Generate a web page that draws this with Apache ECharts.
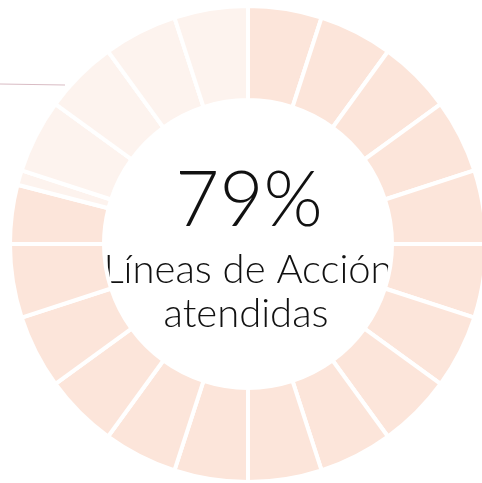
<!DOCTYPE html>
<html>
<head>
<meta charset="utf-8">
<script src="https://cdn.jsdelivr.net/npm/echarts@6/dist/echarts.min.js"></script>
<style>
  html, body { margin: 0; padding: 0; background: #fff; }
  #chart { width: 482px; height: 483px; }
</style>
</head>
<body>
<div id="chart"></div>
<script>
var chart = echarts.init(document.getElementById("chart"));

// porcentaje atendido y etiquetas
let percentText = "79%";
let labelLines = ["Líneas de Acción", "atendidas"];

// cada segmento del anillo vale 5% (20 segmentos), el 16 se parte en 4 + 1
let filledSlices = [5, 5, 5, 5, 5, 5, 5, 5, 5, 5, 5, 5, 5, 5, 5, 4];
let emptySlices = [1, 5, 5, 5, 5];

let filledColor = "#fce5da";
let emptyColor = "#fdf3ee";

let data = [];
filledSlices.forEach(v => data.push({ value: v, itemStyle: { color: filledColor } }));
emptySlices.forEach(v => data.push({ value: v, itemStyle: { color: emptyColor } }));

chart.setOption({
  animation: false,
  series: [
    {
      type: "pie",
      center: [248, 244],
      radius: [144, 238],
      startAngle: 90,
      clockwise: true,
      silent: true,
      label: { show: false },
      labelLine: { show: false },
      itemStyle: {
        borderColor: "#ffffff",
        borderWidth: 4
      },
      data: data
    }
  ],
  graphic: [
    {
      type: "line",
      shape: { x1: 0, y1: 84, x2: 65, y2: 85 },
      style: { stroke: "#d9bcc4", lineWidth: 1.2 }
    },
    {
      type: "text",
      x: 249, y: 201,
      style: {
        text: percentText,
        font: "300 76px Lato",
        fill: "#111",
        align: "center",
        verticalAlign: "middle"
      }
    },
    {
      type: "text",
      x: 248, y: 270,
      style: {
        text: labelLines[0],
        font: "300 40px Lato",
        fill: "#111",
        align: "center",
        verticalAlign: "middle"
      }
    },
    {
      type: "text",
      x: 246, y: 314,
      style: {
        text: labelLines[1],
        font: "300 40px Lato",
        fill: "#111",
        align: "center",
        verticalAlign: "middle"
      }
    }
  ]
});
</script>
</body>
</html>
